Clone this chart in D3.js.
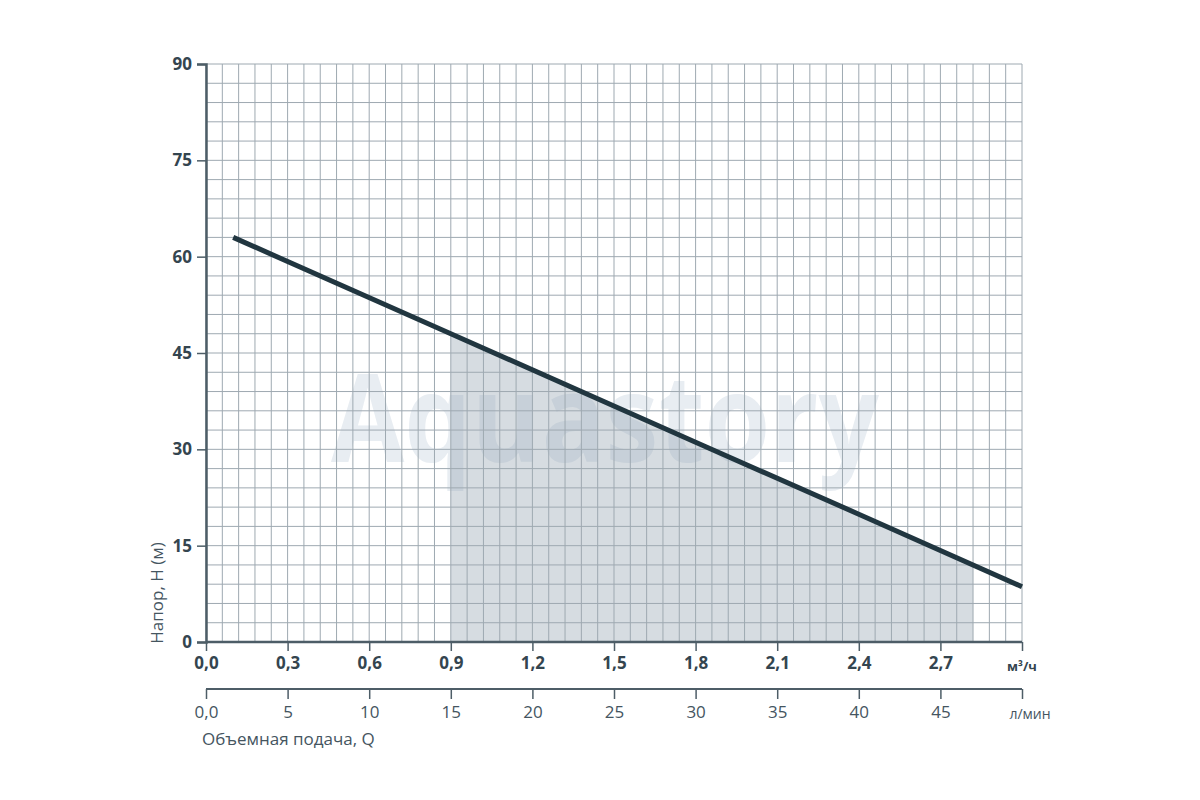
<!DOCTYPE html>
<html><head><meta charset="utf-8">
<script src="https://cdn.jsdelivr.net/npm/d3@7"></script>
<style>html,body{margin:0;padding:0;background:#fff;}svg{display:block;}</style>
</head><body>
<script>
// ---- data ----
const flowM3h = [0.1, 0.9, 1.8, 2.4, 3.0];          // m³/h
const headM   = [63, 48, 31.1, 19.9, 8.6];           // m
const shadeRange = [0.9, 2.82];                      // working range, m³/h
const m3Ticks = [0, 0.3, 0.6, 0.9, 1.2, 1.5, 1.8, 2.1, 2.4, 2.7];
const m3TickLabels = ["0,0","0,3","0,6","0,9","1,2","1,5","1,8","2,1","2,4","2,7"];
const lpmTicks = [0, 5, 10, 15, 20, 25, 30, 35, 40, 45];
const lpmTickLabels = ["0,0","5","10","15","20","25","30","35","40","45"];
const headTicks = [0, 15, 30, 45, 60, 75, 90];

const W = 1200, H = 800;
const svg = d3.select("body").append("svg").attr("width", W).attr("height", H);
const x = d3.scaleLinear([0, 3], [206, 1022]);
const xl = d3.scaleLinear([0, 50], [206, 1022]);
const y = d3.scaleLinear([0, 90], [642, 64]);
const font = "'Open Sans', 'Noto Sans', sans-serif";
const textCol = "#34454f";

// watermark
svg.append("text").attr("x", 605).attr("y", 462).attr("text-anchor", "middle")
  .attr("font-family", "'Open Sans', sans-serif").attr("font-weight", 700)
  .attr("font-size", 122).attr("fill", "#e8edf2")
  .attr("textLength", 548).attr("lengthAdjust", "spacingAndGlyphs")
  .text("Aquastory");

// shaded working area
const pts = flowM3h.map((q, i) => [q, headM[i]]);
const interp = q => {
  for (let i = 0; i < pts.length - 1; i++) {
    if (q >= pts[i][0] && q <= pts[i+1][0]) {
      const t = (q - pts[i][0]) / (pts[i+1][0] - pts[i][0]);
      return pts[i][1] + t * (pts[i+1][1] - pts[i][1]);
    }
  }
  return pts[pts.length-1][1];
};
const shadePts = [[shadeRange[0], interp(shadeRange[0])]]
  .concat(pts.filter(p => p[0] > shadeRange[0] && p[0] < shadeRange[1]))
  .concat([[shadeRange[1], interp(shadeRange[1])]]);
const area = d3.area().x(d => x(d[0])).y0(y(0)).y1(d => y(d[1]));
svg.append("path").datum(shadePts).attr("d", area)
  .attr("fill", "rgb(140,158,172)").attr("fill-opacity", 0.36);

// grid
const g = svg.append("g");
const vLines = d3.range(0, 51).map(i => i * 0.06);
g.selectAll(".v").data(vLines).join("line")
  .attr("x1", d => x(d)).attr("x2", d => x(d)).attr("y1", y(0)).attr("y2", y(90))
  .attr("stroke", "#9ea9b1").attr("stroke-width", 1);
const hLines = d3.range(0, 31).map(i => i * 3);
g.selectAll(".h").data(hLines).join("line")
  .attr("x1", x(0)).attr("x2", x(3)).attr("y1", d => y(d)).attr("y2", d => y(d))
  .attr("stroke", "#9ea9b1").attr("stroke-width", 1);

// curve
svg.append("path").datum(pts)
  .attr("d", d3.line().x(d => x(d[0])).y(d => y(d[1])))
  .attr("fill", "none").attr("stroke", "#213640").attr("stroke-width", 5)
  .attr("stroke-linecap", "butt");

// y axis
const yAxis = svg.append("g").attr("transform", `translate(${x(0)},0)`)
  .call(d3.axisLeft(y).tickValues(headTicks).tickSize(9).tickPadding(5));
yAxis.select(".domain").attr("stroke", "#4d5d67").attr("stroke-width", 2.5);
yAxis.selectAll(".tick line").attr("stroke", "#4d5d67").attr("stroke-width", 1.5);
yAxis.selectAll(".tick text").attr("font-family", font).attr("font-weight", 700)
  .attr("font-size", 17).attr("fill", textCol);

// main x axis
const xAxis = svg.append("g").attr("transform", `translate(0,${y(0)})`)
  .call(d3.axisBottom(x).tickValues(m3Ticks.concat([3.0])).tickSize(9).tickPadding(6)
    .tickFormat((d, i) => i < m3TickLabels.length ? m3TickLabels[i] : ""));
xAxis.select(".domain").attr("stroke", "#4d5d67").attr("stroke-width", 2.5).attr("d", `M${x(0)},0H${x(3)}`);
xAxis.selectAll(".tick line").attr("stroke", "#4d5d67").attr("stroke-width", 1.5);
xAxis.selectAll(".tick text").attr("font-family", font).attr("font-weight", 700)
  .attr("font-size", 17).attr("fill", textCol);
svg.append("text").attr("x", x(3)).attr("y", 671).attr("text-anchor", "middle")
  .attr("font-family", font).attr("font-weight", 700).attr("font-size", 13).attr("fill", textCol)
  .text("м³/ч");

// secondary x axis (l/min)
const lAxis = svg.append("g").attr("transform", `translate(0,689)`)
  .call(d3.axisBottom(xl).tickValues(lpmTicks.concat([50])).tickSize(10).tickPadding(7)
    .tickFormat((d, i) => i < lpmTickLabels.length ? lpmTickLabels[i] : ""));
lAxis.select(".domain").attr("stroke", "#4d5d67").attr("stroke-width", 2).attr("d", `M${xl(0)},0H${xl(50)}`);
lAxis.selectAll(".tick line").attr("stroke", "#4d5d67").attr("stroke-width", 1.5);
lAxis.selectAll(".tick text").attr("font-family", font).attr("font-weight", 400)
  .attr("font-size", 17).attr("fill", "#45555f");
svg.append("text").attr("x", xl(50) + 8).attr("y", 719).attr("text-anchor", "middle")
  .attr("font-family", font).attr("font-size", 14).attr("fill", "#45555f").text("л/мин");

// axis titles
svg.append("text").attr("x", 202).attr("y", 745)
  .attr("font-family", font).attr("font-size", 17).attr("fill", "#45555f")
  .text("Объемная подача, Q");
svg.append("text").attr("transform", "translate(163,593) rotate(-90)").attr("text-anchor", "middle")
  .attr("font-family", font).attr("font-size", 17).attr("fill", "#45555f")
  .text("Напор, H (м)");
</script>
</body></html>
